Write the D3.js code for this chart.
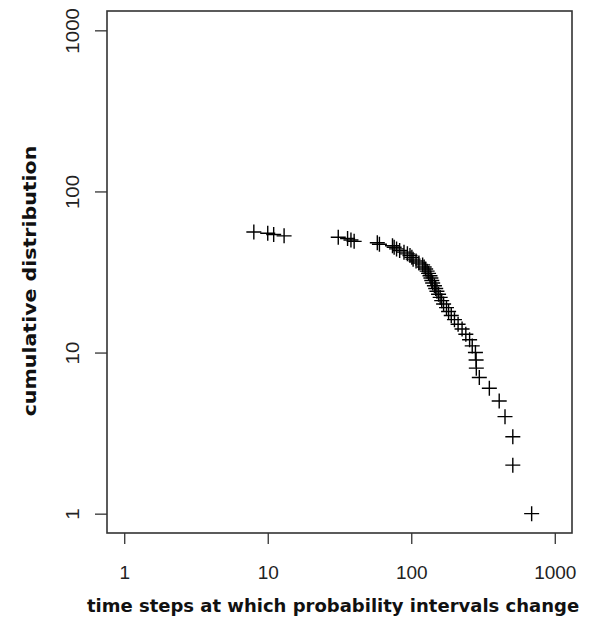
<!DOCTYPE html>
<html>
<head>
<meta charset="utf-8">
<script src="https://cdn.jsdelivr.net/npm/d3@7"></script>
<style>
  html, body { margin: 0; padding: 0; background: #fff; }
  svg { display: block; }
  .tick text { font-family: "Liberation Sans", Arial, sans-serif; font-size: 19px; fill: #222; }
  .title { font-family: "DejaVu Sans", Verdana, sans-serif; font-weight: bold; font-size: 18px; fill: #111; }
</style>
</head>
<body>
<svg id="chart" width="604" height="624"></svg>
<script>
// Time steps (sorted, largest first) and their cumulative counts
const rank = [1, 2, 3, 4, 5, 6, 7, 8, 9, 10,
              11, 12, 13, 14, 15, 16, 17, 18, 19, 20,
              21, 22, 23, 24, 25, 26, 27, 28, 29, 30,
              31, 32, 33, 34, 35, 36, 37, 38, 39, 40,
              41, 42, 43, 44, 45, 46, 47, 48, 49, 50,
              51, 52, 53, 54, 55, 56];
const timeSteps = [690, 510, 510, 450, 410, 350, 298, 284, 283, 280,
                   266, 255, 240, 226, 212, 200, 190, 182, 176, 168,
                   163, 159, 155, 151, 148, 145, 141, 139, 137, 135,
                   132, 129, 126, 123, 120, 113, 108, 103, 101, 98,
                   94, 89, 83, 79, 76, 74, 60, 58, 40, 38,
                   36, 31, 13, 11, 10, 8];
const xTicks = [1, 10, 100, 1000];
const yTicks = [1, 10, 100, 1000];

const svg = d3.select("#chart");
const plot = { left: 107, right: 572, top: 11, bottom: 533 };

// log axes padded by 4% of the three decades on each side
const pad = Math.pow(10, 0.12);
const x = d3.scaleLog().domain([1 / pad, 1000 * pad]).range([plot.left, plot.right]);
const y = d3.scaleLog().domain([1 / pad, 1000 * pad]).range([plot.bottom, plot.top]);

// frame
svg.append("rect")
  .attr("x", plot.left).attr("y", plot.top)
  .attr("width", plot.right - plot.left).attr("height", plot.bottom - plot.top)
  .attr("fill", "none").attr("stroke", "#333").attr("stroke-width", 1.6);

// x axis
const gx = svg.append("g")
  .attr("transform", `translate(0,${plot.bottom})`)
  .call(d3.axisBottom(x).tickValues(xTicks).tickFormat(d3.format("d"))
    .tickSize(11).tickSizeOuter(0).tickPadding(22));
gx.select(".domain").remove();
gx.selectAll(".tick line").attr("stroke", "#333").attr("stroke-width", 1.3);

// y axis, labels rotated parallel to the axis
const gy = svg.append("g")
  .attr("transform", `translate(${plot.left},0)`)
  .call(d3.axisLeft(y).tickValues(yTicks).tickFormat(d3.format("d"))
    .tickSize(12).tickSizeOuter(0));
gy.select(".domain").remove();
gy.selectAll(".tick line").attr("stroke", "#333").attr("stroke-width", 1.3);
gy.selectAll(".tick text")
  .attr("x", null)
  .attr("text-anchor", "middle")
  .attr("transform", "translate(-35,0) rotate(-90) scale(1.08,1)")
  .attr("dy", "0.35em");

// points: plus markers
const arm = 7.5;
svg.append("g")
  .selectAll("path")
  .data(d3.zip(timeSteps, rank))
  .join("path")
  .attr("d", ([t, n]) => {
    const cx = x(t), cy = y(n);
    return `M${cx - arm},${cy}H${cx + arm}M${cx},${cy - arm}V${cy + arm}`;
  })
  .attr("stroke", "#000")
  .attr("stroke-width", 1.4)
  .attr("fill", "none");

// axis titles
svg.append("text").attr("class", "title")
  .attr("x", 333).attr("y", 612)
  .attr("text-anchor", "middle")
  .text("time steps at which probability intervals change");

svg.append("text").attr("class", "title")
  .attr("transform", `translate(36,281) rotate(-90) scale(1.14,1)`)
  .attr("text-anchor", "middle")
  .text("cumulative distribution");
</script>
</body>
</html>
